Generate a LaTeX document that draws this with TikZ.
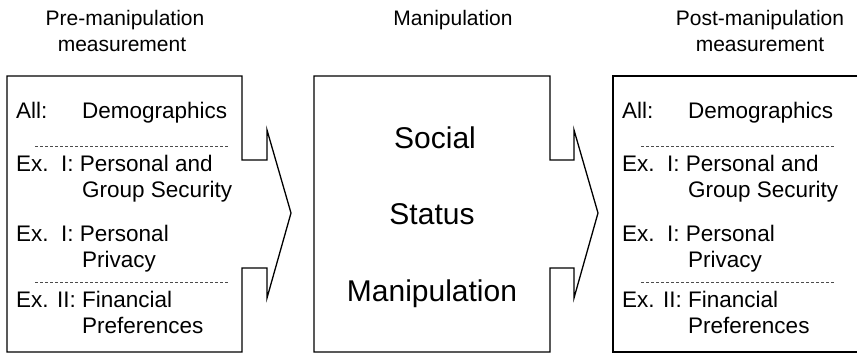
\documentclass[tikz,border=0pt]{standalone}
\usepackage{fontspec}
\setmainfont{Liberation Sans}
\begin{document}
\begin{tikzpicture}[x=1pt,y=-1pt,
  boxline/.style={draw=black,line width=1.3pt,line join=miter},
  sep/.style={draw=black!70,line width=0.6pt,dash pattern=on 3pt off 2pt},
  lab/.style={anchor=base west,inner sep=0pt,font=\fontsize{22.5}{26}\selectfont},
  head/.style={anchor=base,inner sep=0pt,align=center,font=\fontsize{21}{25.5}\selectfont},
  big/.style={anchor=base,inner sep=0pt,font=\fontsize{30}{36}\selectfont}]
\useasboundingbox (0,0) rectangle (859,354);
% left box
\draw[boxline] (7,76) -- (242,76) -- (242,160) -- (267,160) -- (267,130) -- (291,213)
  -- (267,298) -- (267,268) -- (242,268) -- (242,352) -- (7,352) -- cycle;
% middle box
\draw[boxline] (314,76) -- (550,76) -- (550,160) -- (574,160) -- (574,130) -- (598,213)
  -- (574,298) -- (574,268) -- (550,268) -- (550,352) -- (314,352) -- cycle;
% right box (runs off the right edge)
\coordinate (rt) at (857,76);
\coordinate (rb) at (857,352);
\draw[boxline] (rt) -- (613,76) -- (613,352) -- (rb);
% headers
\node[head] (h1) at (125,25) {Pre-manipulation};
\node[head] (h1b) at (122,51) {measurement};
\node[head] (h2) at (453,25) {Manipulation};
\node[head] (h3) at (760,25) {Post-manipulation};
\node[head] (h3b) at (760,51) {measurement};
% middle text
\node[big] (m1) at (435,148) {Social};
\node[big] (m2) at (432,224) {Status};
\node[big] (m3) at (432,301) {Manipulation};
% list contents, left and right
\foreach \dx/\p in {0/L,606/R}{
  \node[lab] (\p a1) at (16+\dx,118) {All:};
  \node[lab] (\p a2) at (82+\dx,118) {Demographics};
  \draw[sep] (35+\dx,146) -- (229+\dx,146);
  \node[lab] (\p b1) at (16+\dx,171) {Ex.\ \ I: Personal and};
  \node[lab] (\p b2) at (82+\dx,197) {Group Security};
  \node[lab] (\p c1) at (16+\dx,241) {Ex.\ \ I: Personal};
  \node[lab] (\p c2) at (82+\dx,267) {Privacy};
  \draw[sep] (35+\dx,282) -- (229+\dx,282);
  \node[lab] (\p d1) at (16+\dx,307) {Ex. II: Financial};
  \node[lab] (\p d2) at (82+\dx,333) {Preferences};
}
\end{tikzpicture}
\end{document}
